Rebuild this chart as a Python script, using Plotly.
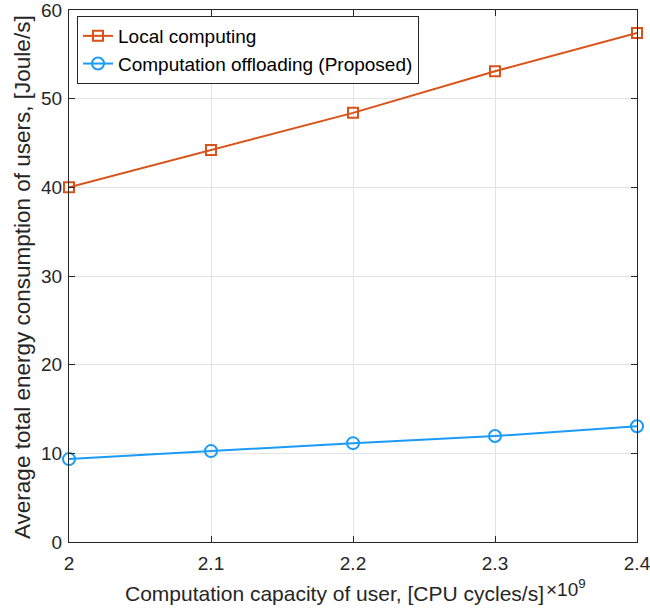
import plotly.graph_objects as go

x_vals = [2.0, 2.1, 2.2, 2.3, 2.4]
local_computing = [40.0, 44.2, 48.4, 53.1, 57.4]
offloading = [9.35, 10.25, 11.15, 11.95, 13.05]
x_ticks = [2.0, 2.1, 2.2, 2.3, 2.4]
x_tick_labels = ["2", "2.1", "2.2", "2.3", "2.4"]
y_ticks = [0, 10, 20, 30, 40, 50, 60]

FONT = "Liberation Sans, Arial, sans-serif"
ORANGE = "#D95319"
BLUE = "#1A9BF7"
AX = "#262626"

fig = go.Figure()
fig.add_trace(go.Scatter(
    x=x_vals, y=local_computing, mode="lines+markers", name="Local computing",
    line=dict(color=ORANGE, width=2),
    marker=dict(symbol="square-open", size=10, color=ORANGE, line=dict(width=2, color=ORANGE)),
    cliponaxis=False))
fig.add_trace(go.Scatter(
    x=x_vals, y=offloading, mode="lines+markers", name="Computation offloading (Proposed)",
    line=dict(color=BLUE, width=2),
    marker=dict(symbol="circle-open", size=12, color=BLUE, line=dict(width=2, color=BLUE)),
    cliponaxis=False))

axis_common = dict(
    showline=True, linecolor=AX, linewidth=1, mirror="allticks",
    ticks="inside", ticklen=6, tickcolor=AX,
    showgrid=True, gridcolor="#e3e3e3", gridwidth=1, zeroline=False,
    tickfont=dict(family=FONT, size=19, color=AX), automargin=False,
    ticklabeloverflow="allow",
)

px_l, px_r, px_t, px_b = 69, 637, 10, 542
pw, ph = px_r - px_l, px_b - px_t

def fx(px):
    return (px - px_l) / pw

def fy(py):
    return (px_b - py) / ph

fig.update_layout(
    width=650, height=614,
    margin=dict(l=px_l, r=650 - px_r, t=px_t, b=614 - px_b, autoexpand=False),
    paper_bgcolor="white", plot_bgcolor="white",
    font=dict(family=FONT, color=AX),
    xaxis=dict(range=[2.0, 2.4], tickvals=x_ticks, ticktext=x_tick_labels, ticklabelstandoff=4, **axis_common),
    yaxis=dict(range=[0, 60], tickvals=y_ticks, ticklabelstandoff=2, **axis_common),
    showlegend=True,
    legend=dict(x=fx(77), y=fy(16), xanchor="left", yanchor="top",
                bgcolor="white", bordercolor=AX, borderwidth=1,
                font=dict(family=FONT, size=19, color="black"),
                tracegroupgap=0, itemwidth=30),
    annotations=[
        dict(text="Computation capacity of user, [CPU cycles/s]", xref="paper", yref="paper",
             x=fx(546), y=fy(593), xanchor="right", yanchor="middle", showarrow=False,
             font=dict(family=FONT, size=21, color=AX)),
        dict(text="×10<sup>9</sup>", xref="paper", yref="paper",
             x=fx(544), y=fy(588), xanchor="left", yanchor="middle", showarrow=False,
             font=dict(family=FONT, size=19, color=AX)),
        dict(text="Average total energy consumption of users, [Joule/s]", xref="paper", yref="paper",
             x=fx(22), y=fy(277), xanchor="center", yanchor="middle", textangle=-90, showarrow=False,
             font=dict(family=FONT, size=22.5, color=AX)),
    ],
)

fig.write_html("out.html")
